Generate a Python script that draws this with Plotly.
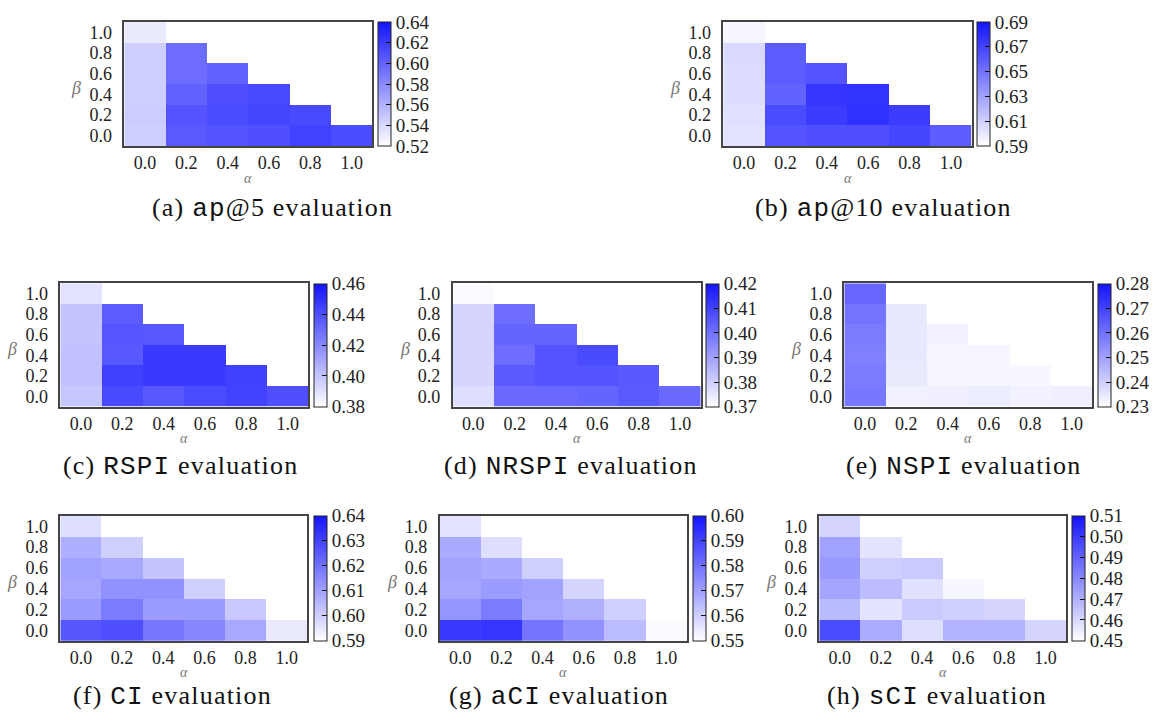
import plotly.graph_objects as go

alpha_vals = [0.0, 0.2, 0.4, 0.6, 0.8, 1.0]
beta_vals = [0.0, 0.2, 0.4, 0.6, 0.8, 1.0]
N = None

# rows: beta = 0.0 .. 1.0 ; columns: alpha = 0.0 .. 1.0
ap5 = [
    [0.545, 0.605, 0.608, 0.610, 0.617, 0.612],
    [0.546, 0.608, 0.612, 0.615, 0.613, N],
    [0.545, 0.600, 0.610, 0.613, N, N],
    [0.545, 0.595, 0.600, N, N, N],
    [0.545, 0.595, N, N, N, N],
    [0.530, N, N, N, N, N],
]
ap10 = [
    [0.602, 0.663, 0.665, 0.665, 0.669, 0.659],
    [0.603, 0.666, 0.673, 0.678, 0.673, N],
    [0.605, 0.657, 0.676, 0.677, N, N],
    [0.605, 0.659, 0.663, N, N, N],
    [0.606, 0.659, N, N, N, N],
    [0.594, N, N, N, N, N],
]
rspi = [
    [0.399, 0.442, 0.437, 0.441, 0.444, 0.440],
    [0.401, 0.445, 0.447, 0.447, 0.445, N],
    [0.401, 0.437, 0.447, 0.447, N, N],
    [0.400, 0.438, 0.437, N, N, N],
    [0.400, 0.435, N, N, N, N],
    [0.390, N, N, N, N, N],
]
nrspi = [
    [0.377, 0.402, 0.402, 0.403, 0.405, 0.402],
    [0.379, 0.405, 0.4065, 0.4065, 0.4055, N],
    [0.379, 0.401, 0.4065, 0.4085, N, N],
    [0.379, 0.403, 0.403, N, N, N],
    [0.379, 0.401, N, N, N, N],
    [0.371, N, N, N, N, N],
]
nspi = [
    [0.259, 0.233, 0.2335, 0.234, 0.233, 0.2335],
    [0.258, 0.2345, 0.232, 0.2317, 0.2317, N],
    [0.257, 0.235, 0.232, 0.232, N, N],
    [0.258, 0.235, 0.233, N, N, N],
    [0.2595, 0.235, N, N, N, N],
    [0.2625, N, N, N, N, N],
]
ci = [
    [0.626, 0.6275, 0.619, 0.6155, 0.6085, 0.5945],
    [0.6115, 0.618, 0.611, 0.611, 0.6015, N],
    [0.609, 0.6135, 0.6135, 0.600, N, N],
    [0.610, 0.6085, 0.6025, N, N, N],
    [0.607, 0.600, N, N, N, N],
    [0.597, N, N, N, N, N],
]
aci = [
    [0.592, 0.593, 0.5795, 0.5735, 0.5645, 0.551],
    [0.5725, 0.578, 0.569, 0.5668, 0.560, N],
    [0.569, 0.571, 0.5695, 0.559, N, N],
    [0.5695, 0.568, 0.560, N, N, N],
    [0.568, 0.557, N, N, N, N],
    [0.556, N, N, N, N, N],
]
sci = [
    [0.4958, 0.4715, 0.4585, 0.4695, 0.4695, 0.461],
    [0.4675, 0.457, 0.4635, 0.462, 0.461, N],
    [0.473, 0.467, 0.458, 0.452, N, N],
    [0.476, 0.462, 0.4635, N, N, N],
    [0.474, 0.457, N, N, N, N],
    [0.461, N, N, N, N, N],
]

tick_labels_ab = ["0.0", "0.2", "0.4", "0.6", "0.8", "1.0"]

cb_ticks = {
    "a": [0.52, 0.54, 0.56, 0.58, 0.60, 0.62, 0.64],
    "b": [0.59, 0.61, 0.63, 0.65, 0.67, 0.69],
    "c": [0.38, 0.40, 0.42, 0.44, 0.46],
    "d": [0.37, 0.38, 0.39, 0.40, 0.41, 0.42],
    "e": [0.23, 0.24, 0.25, 0.26, 0.27, 0.28],
    "f": [0.59, 0.60, 0.61, 0.62, 0.63, 0.64],
    "g": [0.55, 0.56, 0.57, 0.58, 0.59, 0.60],
    "h": [0.45, 0.46, 0.47, 0.48, 0.49, 0.50, 0.51],
}

MONO = "Liberation Mono"
captions = {
    "a": ("ap", "@5 evaluation"),
    "b": ("ap", "@10 evaluation"),
    "c": ("RSPI", " evaluation"),
    "d": ("NRSPI", " evaluation"),
    "e": ("NSPI", " evaluation"),
    "f": ("CI", " evaluation"),
    "g": ("aCI", " evaluation"),
    "h": ("sCI", " evaluation"),
}

data = {"a": ap5, "b": ap10, "c": rspi, "d": nrspi, "e": nspi,
        "f": ci, "g": aci, "h": sci}

W, H = 1157, 712
# layout in pixels: (plot_left, plot_right, plot_top, plot_bottom, cbar_left, caption_center_x, caption_y)
layout_px = {
    "a": (124.3, 372.3, 22, 146, 378.3, 272, 208),
    "b": (723.3, 971.7, 22, 146, 976.7, 883, 208),
    "c": (60.3, 308.3, 283.3, 406.7, 314.0, 180, 466),
    "d": (452.7, 700.7, 283.3, 406.7, 706.0, 571, 466),
    "e": (844.3, 1092.3, 283.3, 406.7, 1097.7, 963, 466),
    "f": (60.3, 307.3, 516, 640.7, 314.0, 172, 696),
    "g": (439.7, 686.7, 516, 640.7, 693.3, 559, 696),
    "h": (819.3, 1066.0, 516, 640.7, 1072.3, 937, 696),
}

colorscale = [[0.0, "rgb(255,255,255)"], [1.0, "rgb(20,20,255)"]]
SERIF = "Liberation Serif"
LS = "letter-spacing:1.2px"

fig = go.Figure()
annotations = []
for i, key in enumerate("abcdefgh"):
    n = i + 1
    xa = "x" if n == 1 else f"x{n}"
    ya = "y" if n == 1 else f"y{n}"
    pl, pr, pt, pb, cbl, capx, capy = layout_px[key]
    ticks = cb_ticks[key]
    fig.add_trace(go.Heatmap(
        x=alpha_vals, y=beta_vals, z=data[key],
        zmin=ticks[0], zmax=ticks[-1],
        colorscale=colorscale, xaxis=xa, yaxis=ya,
        hoverongaps=False,
        colorbar=dict(
            x=cbl / W, xanchor="left", xpad=0, ypad=0,
            y=1 - pb / H, yanchor="bottom",
            len=pb - pt, lenmode="pixels",
            thickness=12.5, thicknessmode="pixels",
            outlinecolor="#222", outlinewidth=1,
            tickvals=ticks, ticktext=[f"{t:.2f}" for t in ticks],
            ticks="inside", ticklen=5, tickcolor="#111", tickwidth=1,
            tickfont=dict(family=SERIF, size=19, color="#222"),
        ),
    ))
    xkey = "xaxis" if n == 1 else f"xaxis{n}"
    ykey = "yaxis" if n == 1 else f"yaxis{n}"
    fig.update_layout(**{
        xkey: dict(domain=[pl / W, pr / W], anchor=ya, range=[-0.1, 1.1],
                   tickvals=alpha_vals, ticktext=tick_labels_ab,
                   showgrid=False, zeroline=False, showline=True, mirror=True,
                   linecolor="#444", linewidth=1.5,
                   ticks="",
                   tickfont=dict(family=SERIF, size=18, color="#222")),
        ykey: dict(domain=[1 - pb / H, 1 - pt / H], anchor=xa, range=[-0.1, 1.1],
                   tickvals=beta_vals, ticktext=tick_labels_ab,
                   showgrid=False, zeroline=False, showline=True, mirror=True,
                   linecolor="#444", linewidth=1.5,
                   ticks="outside", ticklen=7, tickcolor="rgba(0,0,0,0)",
                   tickfont=dict(family=SERIF, size=18, color="#222")),
    })
    # axis labels
    annotations.append(dict(text="<i>α</i>", xref=f"{xa} domain", yref=f"{ya} domain",
                            x=0.5, y=0, yshift=-32, xanchor="center", yanchor="middle",
                            showarrow=False, borderpad=0,
                            font=dict(family=SERIF, size=14, color="#777")))
    annotations.append(dict(text="<i>β</i>", xref=f"{xa} domain", yref=f"{ya} domain",
                            x=0, y=0.5, xshift=-48, yshift=-4, xanchor="center", yanchor="middle",
                            showarrow=False, font=dict(family=SERIF, size=18, color="#777")))
    code, rest = captions[key]
    annotations.append(dict(
        text=(f"<span style='{LS}'>({key}) </span>"
              f"<span style='font-family:{MONO};{LS}'>{code}</span>"
              f"<span style='{LS}'>{rest}</span>"),
        xref="paper", yref="paper", x=capx / W, y=1 - capy / H,
        xanchor="center", yanchor="middle", showarrow=False, borderpad=0,
        font=dict(family=SERIF, size=26, color="#111")))

fig.update_layout(
    width=W, height=H, margin=dict(l=0, r=0, t=0, b=0),
    paper_bgcolor="white", plot_bgcolor="white",
    annotations=annotations, showlegend=False,
)

fig.write_html("out.html")
